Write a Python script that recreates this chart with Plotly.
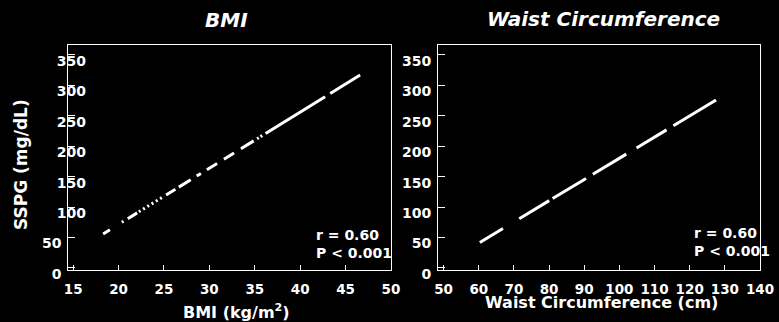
import plotly.graph_objects as go

# Regression fits: SSPG vs BMI and SSPG vs waist circumference
bmi_fit = [18.3, 46.6]
sspg_bmi_fit = [56, 317]
waist_fit = [60.3, 127.5]
sspg_waist_fit = [42, 276]

r_values = [0.60, 0.60]
p_labels = ["P < 0.001", "P < 0.001"]

panel_titles = ["BMI", "Waist Circumference"]
x_titles = ["BMI (kg/m<sup>2</sup>)", "Waist Circumference (cm)"]
y_title = "SSPG (mg/dL)"

bmi_ticks = [15, 20, 25, 30, 35, 40, 45, 50]
waist_ticks = [50, 60, 70, 80, 90, 100, 110, 120, 130, 140]
sspg_ticks = [0, 50, 100, 150, 200, 250, 300, 350]

W, H = 779, 322
FONT = "DejaVu Sans, Verdana, sans-serif"
NBSP = "\u00a0"

# broken dash patterns of the printed fit lines
dash_left = [8, 14, 2, 5, 11, 2, 2, 3, 2, 3, 2, 3, 2, 3, 2, 3, 2, 5,
             11, 4, 14, 7, 5, 7, 12, 8, 12, 8, 15, 4, 2, 2, 2, 4, 70, 6, 40]
dash_right = [27, 19, 35, 4, 39, 8, 39, 12, 35, 8, 55]


def dash_str(seq):
    return ",".join(f"{v}px" for v in seq)


fig = go.Figure()
fig.add_trace(go.Scatter(
    x=bmi_fit, y=sspg_bmi_fit, mode="lines", xaxis="x", yaxis="y",
    line=dict(color="white", width=3, dash=dash_str(dash_left)),
    showlegend=False, hoverinfo="skip"))
fig.add_trace(go.Scatter(
    x=waist_fit, y=sspg_waist_fit, mode="lines", xaxis="x2", yaxis="y2",
    line=dict(color="white", width=3, dash=dash_str(dash_right)),
    showlegend=False, hoverinfo="skip"))


def px_x(v):
    return v / W


def px_y(v):
    return 1 - v / H


tick_font_y = dict(family=FONT, size=14, color="white", weight="bold")
tick_font_x = dict(family=FONT, size=13.5, color="white", weight="bold")

common_axis = dict(
    showline=True, linecolor="white", linewidth=1, mirror=True,
    showgrid=False, zeroline=False, ticks="inside", tickcolor="white",
    tickwidth=1, automargin=False,
)

# left panel y labels sit partly over the frame; pad the short ones
left_y_text = [str(v) if v >= 100 else str(v) + NBSP * 5 for v in sspg_ticks]

y_range = [-3.3, 366.4]
y_domain = [px_y(270), px_y(45)]

fig.update_layout(
    width=W, height=H, autosize=False,
    margin=dict(l=0, r=0, t=0, b=0, pad=0, autoexpand=False),
    paper_bgcolor="black", plot_bgcolor="black",
    xaxis=dict(common_axis, domain=[px_x(67.7), px_x(391)], range=[14.4, 50.0],
               tickvals=bmi_ticks, ticktext=[str(v) for v in bmi_ticks],
               ticklen=5, tickfont=tick_font_x, ticklabelstandoff=7, anchor="y"),
    yaxis=dict(common_axis, domain=y_domain, range=y_range,
               tickvals=sspg_ticks, ticktext=left_y_text,
               ticklen=7, tickfont=tick_font_y, ticklabelstandoff=-22,
               ticklabelshift=6, anchor="x"),
    xaxis2=dict(common_axis, domain=[px_x(438), px_x(760)], range=[48.4, 140.0],
                tickvals=waist_ticks, ticktext=[str(v) for v in waist_ticks],
                ticklen=5, tickfont=tick_font_x, ticklabelstandoff=7, anchor="y2"),
    yaxis2=dict(common_axis, domain=y_domain, range=y_range,
                tickvals=sspg_ticks, ticktext=[str(v) for v in sspg_ticks],
                ticklen=7, tickfont=tick_font_y, ticklabelstandoff=3,
                ticklabelshift=6, anchor="x2"),
)

title_font = dict(family=FONT, size=20, color="white", weight="bold", style="italic")
axis_title_font = dict(family=FONT, size=16, color="white", weight="bold")
stat_font = dict(family=FONT, size=14, color="white", weight="bold")

annotations = [
    dict(text=panel_titles[0], x=px_x(226), y=px_y(19.5), font=title_font),
    dict(text=panel_titles[1], x=px_x(603), y=px_y(19), font=title_font),
    dict(text=x_titles[0], x=px_x(236.7), y=px_y(311), font=axis_title_font),
    dict(text=x_titles[1], x=px_x(601.7), y=px_y(302), font=axis_title_font),
    dict(text=y_title, x=px_x(21), y=px_y(165), textangle=-90,
         font=dict(family=FONT, size=17, color="white", weight="bold")),
    dict(text=f"r = {r_values[0]:.2f}<br>{p_labels[0]}", x=px_x(314), y=px_y(244),
         xanchor="left", align="left", font=stat_font),
    dict(text=f"r = {r_values[1]:.2f}<br>{p_labels[1]}", x=px_x(692), y=px_y(242.5),
         xanchor="left", align="left", font=stat_font),
]
for a in annotations:
    a.setdefault("xanchor", "center")
    a.update(xref="paper", yref="paper", yanchor="middle", showarrow=False)
fig.update_layout(annotations=annotations)

fig.write_html("out.html")
